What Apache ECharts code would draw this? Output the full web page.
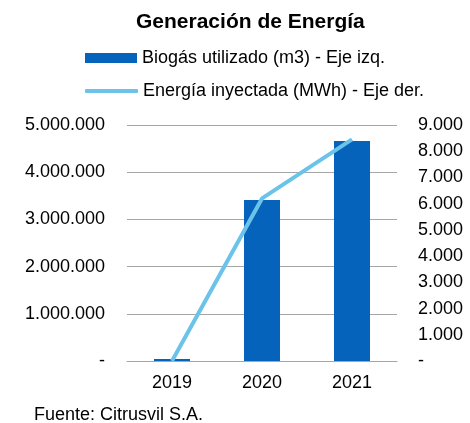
<!DOCTYPE html>
<html>
<head>
<meta charset="utf-8">
<script src="https://cdn.jsdelivr.net/npm/echarts@6/dist/echarts.min.js"></script>
<style>html,body{margin:0;padding:0;background:#fff;}#c{width:470px;height:423px;}</style>
</head>
<body>
<div id="c"></div>
<script>
const categories = ['2019', '2020', '2021'];
const biogas = [40000, 3410000, 4660000];
const energia = [0, 6200, 8450];
const seriesNames = ['Biogás utilizado (m3) - Eje izq.', 'Energía inyectada (MWh) - Eje der.'];

function fmt(v) {
  if (v === 0) return '-';
  return String(v).replace(/\B(?=(\d{3})+(?!\d))/g, '.');
}

const chart = echarts.init(document.getElementById('c'));
const FONT = '"Liberation Sans", Arial, sans-serif';
const legendText = { fontFamily: FONT, fontSize: 18, color: '#000' };
chart.setOption({
  animation: false,
  textStyle: { fontFamily: FONT },
  title: [
    { text: 'Generación de Energía', left: 131, top: 7,
      textStyle: { fontFamily: FONT, fontSize: 21, fontWeight: 'bold', color: '#000' } },
    { text: 'Fuente: Citrusvil S.A.', left: 29, top: 401,
      textStyle: { fontFamily: FONT, fontSize: 18, fontWeight: 'normal', color: '#000' } }
  ],
  legend: [
    { left: 80, top: 44, itemWidth: 52, itemHeight: 10, itemGap: 6,
      textStyle: legendText,
      data: [{ name: seriesNames[0], icon: 'rect' }] },
    { left: 80, top: 77, itemWidth: 53, itemHeight: 4, itemGap: 6,
      textStyle: legendText,
      data: [{ name: seriesNames[1], icon: 'roundRect' }] }
  ],
  grid: { left: 127, right: 73, top: 125, bottom: 62 },
  xAxis: {
    type: 'category', data: categories,
    axisLine: { lineStyle: { color: '#A6A6A6' } },
    axisTick: { show: false },
    axisLabel: { color: '#000', fontSize: 18, margin: 13, fontFamily: FONT }
  },
  yAxis: [
    { type: 'value', min: 0, max: 5000000, interval: 1000000,
      axisLine: { show: false }, axisTick: { show: false },
      splitLine: { lineStyle: { color: '#A6A6A6' } },
      axisLabel: { color: '#000', fontSize: 18, margin: 22, formatter: fmt, fontFamily: FONT } },
    { type: 'value', min: 0, max: 9000, interval: 1000,
      axisLine: { show: false }, axisTick: { show: false },
      splitLine: { show: false },
      axisLabel: { color: '#000', fontSize: 18, margin: 21, align: 'left', formatter: fmt, fontFamily: FONT } }
  ],
  series: [
    { name: seriesNames[0], type: 'bar', data: biogas, barWidth: '40%',
      itemStyle: { color: '#0563BB' } },
    { name: seriesNames[1], type: 'line', yAxisIndex: 1, data: energia,
      symbol: 'none', lineStyle: { color: '#6CC3EA', width: 4 }, itemStyle: { color: '#6CC3EA' } }
  ]
});
</script>
</body>
</html>
